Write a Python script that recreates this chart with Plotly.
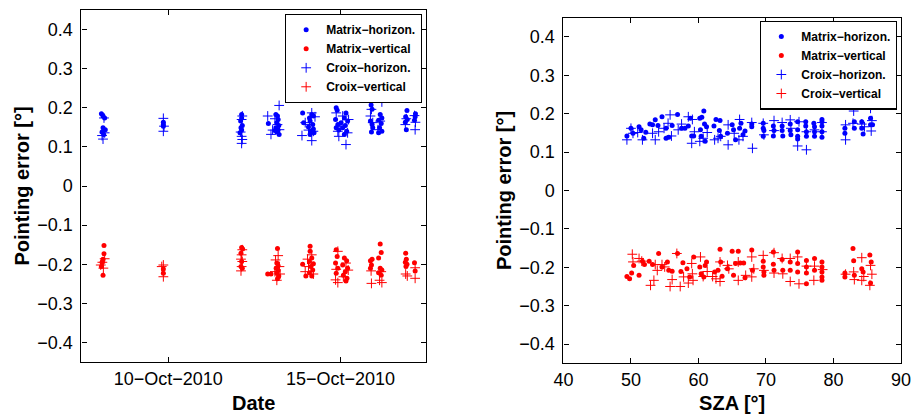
import numpy as np
import pandas as pd
import plotly.graph_objects as go

# ---------------------------------------------------------------------------
# Pointing error versus observation date (day of October 2010, fractional)
# ---------------------------------------------------------------------------
day_mh = [8.059, 8.106, 8.153, 8.106, 8.172, 8.078, 8.125,
          9.858, 9.858, 9.858,
          12.131, 12.131, 12.102, 12.150, 12.112, 12.131, 12.083,
          12.907, 13.125, 13.172, 13.191, 13.153, 13.210, 13.125, 13.191, 13.153, 13.220, 13.097,
          13.902, 13.930, 14.100, 14.167, 14.214, 14.119, 14.195, 14.072, 14.214, 14.138, 14.233, 14.119,
          14.877, 14.905, 14.858, 14.924, 14.877, 14.953, 15.189, 15.208, 15.161, 15.114, 15.208, 15.142,
          15.066, 15.180, 15.114, 15.019,
          15.890, 15.919, 15.871, 15.919, 15.938, 15.900, 16.184, 16.155, 16.203, 16.108, 16.184, 16.136,
          16.203, 16.108,
          16.932, 16.894, 16.941, 16.884, 16.913, 17.178, 17.169, 17.150]
val_mh = [0.185, 0.179, 0.174, 0.149, 0.144, 0.138, 0.132,
          0.163, 0.157, 0.153,
          0.183, 0.174, 0.166, 0.155, 0.149, 0.143, 0.136,
          0.160, 0.183, 0.179, 0.170, 0.162, 0.155, 0.149, 0.143, 0.138, 0.132, 0.142,
          0.187, 0.162, 0.174, 0.183, 0.179, 0.166, 0.157, 0.151, 0.146, 0.140, 0.136, 0.132,
          0.200, 0.194, 0.170, 0.157, 0.149, 0.143, 0.232, 0.226, 0.187, 0.174, 0.166, 0.155,
          0.149, 0.140, 0.132, 0.162,
          0.207, 0.196, 0.166, 0.157, 0.149, 0.138, 0.232, 0.183, 0.174, 0.168, 0.160, 0.149,
          0.140, 0.136,
          0.193, 0.177, 0.170, 0.163, 0.144, 0.185, 0.177, 0.168]

day_mv = [8.134, 8.134, 8.106, 8.078, 8.059, 8.106,
          9.858, 9.858,
          12.131, 12.159, 12.112, 12.131, 12.112, 12.150,
          12.888, 12.983, 13.172, 13.153, 13.191, 13.134, 13.191, 13.153, 13.210, 13.172,
          13.902, 13.996, 14.119, 14.119, 14.167, 14.100, 14.214, 14.138, 14.195, 14.100, 14.167,
          14.877, 14.905, 14.858, 14.924, 14.877, 15.114, 15.180, 15.066, 15.208, 15.142, 15.085,
          15.189, 15.161,
          15.871, 15.919, 15.900, 15.871, 16.155, 16.184, 16.108, 16.155, 16.203, 16.108, 16.184,
          16.894, 16.913, 16.884, 16.932, 16.903, 17.150, 17.169]
val_mv = [-0.152, -0.173, -0.187, -0.195, -0.206, -0.228,
          -0.212, -0.223,
          -0.157, -0.161, -0.172, -0.193, -0.206, -0.210,
          -0.225, -0.225, -0.160, -0.197, -0.204, -0.210, -0.216, -0.223, -0.230, -0.237,
          -0.200, -0.230, -0.154, -0.167, -0.184, -0.193, -0.199, -0.206, -0.215, -0.222, -0.230,
          -0.163, -0.180, -0.197, -0.210, -0.223, -0.184, -0.191, -0.202, -0.210, -0.219, -0.228,
          -0.236, -0.243,
          -0.191, -0.187, -0.202, -0.210, -0.148, -0.170, -0.184, -0.210, -0.215, -0.222, -0.228,
          -0.172, -0.187, -0.195, -0.200, -0.206, -0.196, -0.217]

day_ch = [8.134, 8.078, 8.153, 8.106,
          9.858, 9.877, 9.858,
          12.150, 12.131, 12.102, 12.131, 12.150, 12.131,
          12.888, 12.983, 13.220, 13.097, 13.172, 13.229, 13.030,
          13.883, 13.977, 14.167, 14.261, 14.100, 14.214, 14.167, 14.072,
          14.877, 14.924, 14.953, 15.161, 15.237, 15.066, 15.208, 14.991,
          15.900, 15.871, 15.938, 16.203, 16.155, 16.089,
          16.913, 17.150, 17.178, 17.169, 16.884]
val_ch = [0.174, 0.129, 0.136, 0.120,
          0.173, 0.153, 0.140,
          0.179, 0.170, 0.138, 0.127, 0.119, 0.109,
          0.179, 0.132, 0.206, 0.172, 0.157, 0.144, 0.143,
          0.129, 0.162, 0.187, 0.177, 0.157, 0.140, 0.116, 0.143,
          0.187, 0.140, 0.127, 0.106, 0.170, 0.179, 0.136, 0.153,
          0.196, 0.179, 0.162, 0.215, 0.166, 0.144,
          0.172, 0.180, 0.163, 0.144, 0.157]

day_cv = [8.153, 8.087, 8.040, 8.116,
          9.858, 9.811, 9.858,
          12.150, 12.131, 12.112, 12.150, 12.131, 12.112,
          13.191, 13.116, 13.229, 13.097, 13.248, 13.153,
          14.044, 14.167, 13.977, 14.214, 14.072,
          14.924, 14.877, 14.858, 14.924, 15.161, 15.085, 15.227,
          15.890, 15.900, 16.184, 16.136, 16.203,
          16.894, 16.941, 17.169, 17.169]
val_cv = [-0.186, -0.195, -0.202, -0.210,
          -0.202, -0.206, -0.232,
          -0.163, -0.176, -0.187, -0.193, -0.206, -0.217,
          -0.178, -0.189, -0.206, -0.219, -0.225, -0.241,
          -0.187, -0.176, -0.219, -0.225, -0.206,
          -0.167, -0.213, -0.240, -0.247, -0.197, -0.232, -0.215,
          -0.217, -0.249, -0.219, -0.241, -0.247,
          -0.225, -0.230, -0.209, -0.236]

# ---------------------------------------------------------------------------
# Pointing error versus solar zenith angle (degrees)
# ---------------------------------------------------------------------------
sza_mh = [49.4, 50.0, 50.3, 51.2, 51.5, 51.9, 52.2, 52.8, 53.2, 53.6, 54.0, 54.6, 55.2, 55.2,
          55.6, 56.1, 56.9, 57.5, 58.0, 58.5, 58.8, 59.0, 59.3, 60.2, 60.5, 60.8, 60.3, 60.4,
          60.9, 61.0, 61.2, 62.3, 62.6, 63.2, 63.1, 63.3, 64.3, 65.0, 65.2, 65.5, 66.1, 66.3,
          66.6, 66.9, 67.9, 67.9, 69.6, 69.6, 69.7, 69.6, 71.1, 71.1, 71.2, 72.4, 72.4, 72.5,
          73.6, 73.6, 73.7, 74.7, 74.7, 74.7, 74.7, 75.9, 75.9, 76.0, 76.0, 77.1, 77.2, 77.2,
          77.2, 78.3, 78.3, 78.3, 78.3, 78.3, 81.7, 81.7, 82.9, 82.9, 83.1, 83.1, 84.2, 84.2,
          84.2, 84.4, 85.5, 85.5, 85.8]
err_mh = [0.142, 0.162, 0.149, 0.166, 0.158, 0.136, 0.152, 0.173, 0.171, 0.184, 0.169, 0.192,
          0.162, 0.136, 0.139, 0.169, 0.198, 0.162, 0.162, 0.168, 0.188, 0.142, 0.142, 0.188,
          0.191, 0.207, 0.158, 0.141, 0.173, 0.128, 0.166, 0.168, 0.185, 0.182, 0.156, 0.141,
          0.149, 0.171, 0.158, 0.132, 0.162, 0.175, 0.145, 0.155, 0.173, 0.166, 0.175, 0.162,
          0.156, 0.141, 0.168, 0.142, 0.156, 0.168, 0.156, 0.142, 0.173, 0.156, 0.145, 0.179,
          0.158, 0.141, 0.134, 0.179, 0.168, 0.153, 0.141, 0.175, 0.166, 0.153, 0.141, 0.185,
          0.179, 0.168, 0.153, 0.139, 0.162, 0.149, 0.231, 0.222, 0.179, 0.162, 0.231, 0.179,
          0.162, 0.147, 0.188, 0.171, 0.171]

sza_mv = [49.4, 49.8, 50.1, 50.4, 51.2, 51.7, 52.0, 52.7, 53.2, 54.1, 54.6, 55.4, 55.6, 56.1,
          56.9, 57.4, 57.7, 58.3, 58.7, 59.3, 60.2, 60.4, 60.8, 61.0, 61.2, 62.4, 62.9, 63.2,
          63.3, 63.5, 64.3, 65.0, 65.2, 65.5, 65.9, 66.2, 66.7, 66.9, 67.9, 68.0, 69.6, 69.6,
          69.7, 69.7, 71.1, 71.1, 71.2, 72.4, 72.5, 73.6, 73.6, 74.7, 74.7, 74.7, 76.0, 76.0,
          76.0, 76.0, 77.2, 77.2, 78.3, 78.3, 78.3, 78.3, 78.3, 81.7, 81.7, 82.9, 83.0, 83.1,
          84.2, 84.4, 85.4, 85.6, 85.5]
err_mv = [-0.224, -0.230, -0.215, -0.195, -0.221, -0.184, -0.193, -0.184, -0.193, -0.164,
          -0.199, -0.186, -0.208, -0.210, -0.164, -0.211, -0.188, -0.204, -0.225, -0.173,
          -0.199, -0.217, -0.225, -0.195, -0.186, -0.212, -0.208, -0.153, -0.186, -0.223,
          -0.204, -0.158, -0.221, -0.190, -0.158, -0.189, -0.189, -0.227, -0.155, -0.208,
          -0.184, -0.199, -0.212, -0.221, -0.160, -0.192, -0.208, -0.180, -0.208, -0.186,
          -0.208, -0.160, -0.190, -0.212, -0.182, -0.199, -0.215, -0.243, -0.177, -0.208,
          -0.186, -0.199, -0.212, -0.225, -0.234, -0.215, -0.225, -0.151, -0.183, -0.221,
          -0.204, -0.212, -0.168, -0.186, -0.241]

sza_ch = [49.4, 50.0, 50.3, 51.0, 51.7, 53.2, 53.6, 54.1, 54.9, 55.5, 55.8, 56.0, 57.0, 57.5,
          58.5, 59.0, 59.1, 59.4, 60.2, 60.7, 61.3, 62.4, 62.9, 63.3, 64.4, 64.4, 65.3, 66.0,
          66.1, 66.6, 67.9, 68.0, 69.6, 69.7, 71.2, 71.2, 72.4, 73.6, 73.7, 74.7, 74.9, 76.0,
          76.0, 77.2, 78.3, 78.3, 81.8, 81.8, 83.0, 82.9, 84.2, 84.6, 85.5, 85.6, 85.7]
err_ch = [0.132, 0.162, 0.149, 0.151, 0.132, 0.149, 0.132, 0.153, 0.162, 0.175, 0.197, 0.142,
          0.158, 0.173, 0.192, 0.123, 0.185, 0.153, 0.128, 0.136, 0.151, 0.132, 0.136, 0.141,
          0.171, 0.119, 0.149, 0.132, 0.185, 0.141, 0.177, 0.110, 0.175, 0.145, 0.182, 0.156,
          0.177, 0.184, 0.162, 0.116, 0.179, 0.106, 0.153, 0.158, 0.177, 0.153, 0.171, 0.132,
          0.207, 0.175, 0.173, 0.166, 0.214, 0.155, 0.182]

sza_cv = [50.2, 50.3, 51.2, 51.6, 52.9, 53.4, 53.6, 53.9, 54.6, 55.0, 55.8, 56.1, 56.8, 57.3,
          57.8, 58.5, 59.0, 59.1, 59.2, 60.3, 60.7, 61.3, 62.1, 62.6, 63.2, 63.2, 64.3, 64.5,
          65.9, 65.9, 67.0, 67.9, 67.9, 68.2, 69.6, 69.7, 71.2, 71.2, 72.4, 72.5, 73.6, 73.6,
          74.7, 74.9, 76.0, 77.1, 77.2, 78.4, 81.8, 83.0, 83.1, 84.2, 84.2, 84.5, 85.5, 85.7,
          85.4]
err_cv = [-0.166, -0.186, -0.177, -0.184, -0.247, -0.234, -0.193, -0.208, -0.193, -0.199,
          -0.250, -0.232, -0.164, -0.250, -0.225, -0.241, -0.190, -0.217, -0.234, -0.173,
          -0.224, -0.211, -0.224, -0.230, -0.186, -0.237, -0.195, -0.204, -0.186, -0.234,
          -0.221, -0.173, -0.225, -0.204, -0.169, -0.208, -0.162, -0.215, -0.177, -0.217,
          -0.237, -0.177, -0.173, -0.243, -0.197, -0.234, -0.197, -0.206, -0.218, -0.212,
          -0.232, -0.175, -0.234, -0.224, -0.195, -0.218, -0.247]

series_names = ["Matrix\u2212horizon.", "Matrix\u2212vertical",
                "Croix\u2212horizon.", "Croix\u2212vertical"]
date_ticks = ["2010-10-10", "2010-10-15"]
date_tick_text = ["10\u2212Oct\u22122010", "15\u2212Oct\u22122010"]


def to_dates(days):
    base = pd.Timestamp("2010-10-01")
    return base + pd.to_timedelta(np.asarray(days) - 1.0, unit="D")


FONT = "Liberation Sans, Arial, Helvetica, sans-serif"
BLUE = "rgb(0,0,255)"
RED = "rgb(255,0,0)"


def dot(color):
    return dict(symbol="circle", size=5, color=color, line=dict(width=0))


def plus(color):
    return dict(symbol="cross-thin", size=7, color=color, line=dict(width=1, color=color))


fig = go.Figure()

left_sets = [(day_mh, val_mh, dot(BLUE)), (day_mv, val_mv, dot(RED)),
             (day_ch, val_ch, plus(BLUE)), (day_cv, val_cv, plus(RED))]
right_sets = [(sza_mh, err_mh, dot(BLUE)), (sza_mv, err_mv, dot(RED)),
              (sza_ch, err_ch, plus(BLUE)), (sza_cv, err_cv, plus(RED))]

for name, (d, v, m) in zip(series_names, left_sets):
    fig.add_trace(go.Scatter(x=to_dates(d), y=v, mode="markers", marker=m, name=name,
                             xaxis="x", yaxis="y", legend="legend"))
for name, (s, v, m) in zip(series_names, right_sets):
    fig.add_trace(go.Scatter(x=s, y=v, mode="markers", marker=m, name=name,
                             xaxis="x2", yaxis="y2", legend="legend2"))

axis_common = dict(showline=True, linecolor="black", linewidth=1.3, mirror="ticks",
                   ticks="inside", ticklen=5, tickwidth=1, tickcolor="black",
                   showgrid=False, zeroline=False,
                   tickfont=dict(family=FONT, size=18, color="black"))
title_font = dict(family=FONT, size=20, color="black", weight="bold")

fig.update_layout(
    width=922, height=414,
    margin=dict(l=0, r=0, t=0, b=0),
    paper_bgcolor="white", plot_bgcolor="white",
    font=dict(family=FONT, color="black"),
    xaxis=dict(domain=[0.0792, 0.4610], type="date",
               range=["2010-10-07 11:30", "2010-10-17 11:30"],
               tickmode="array", tickvals=date_ticks, ticktext=date_tick_text,
               title=dict(text="Date", font=title_font, standoff=8),
               anchor="y", **axis_common),
    yaxis=dict(domain=[0.1256, 0.9758], range=[-0.45, 0.45], dtick=0.1, tick0=0,
               ticklabelstandoff=4,
               title=dict(text="Pointing error [°]", font=title_font, standoff=2),
               anchor="x", **axis_common),
    xaxis2=dict(domain=[0.6136, 0.9877], range=[40, 90], dtick=10,
                title=dict(text="SZA [°]", font=title_font, standoff=8),
                anchor="y2", **axis_common),
    yaxis2=dict(domain=[0.1225, 0.9572], range=[-0.45, 0.45], dtick=0.1, tick0=0,
                ticklabelstandoff=4,
                title=dict(text="Pointing error [°]", font=title_font, standoff=2),
                anchor="x2", **axis_common),
    legend=dict(x=0.4566, y=0.9662, xanchor="right", yanchor="top",
                bgcolor="white", bordercolor="black", borderwidth=1.3,
                font=dict(family=FONT, size=12, color="black", weight="bold"),
                itemwidth=30, tracegroupgap=0),
    legend2=dict(x=0.9834, y=0.95, xanchor="right", yanchor="top",
                 bgcolor="white", bordercolor="black", borderwidth=1.3,
                 font=dict(family=FONT, size=12, color="black", weight="bold"),
                 itemwidth=30, tracegroupgap=0),
    showlegend=True,
)

fig.write_html("out.html")
